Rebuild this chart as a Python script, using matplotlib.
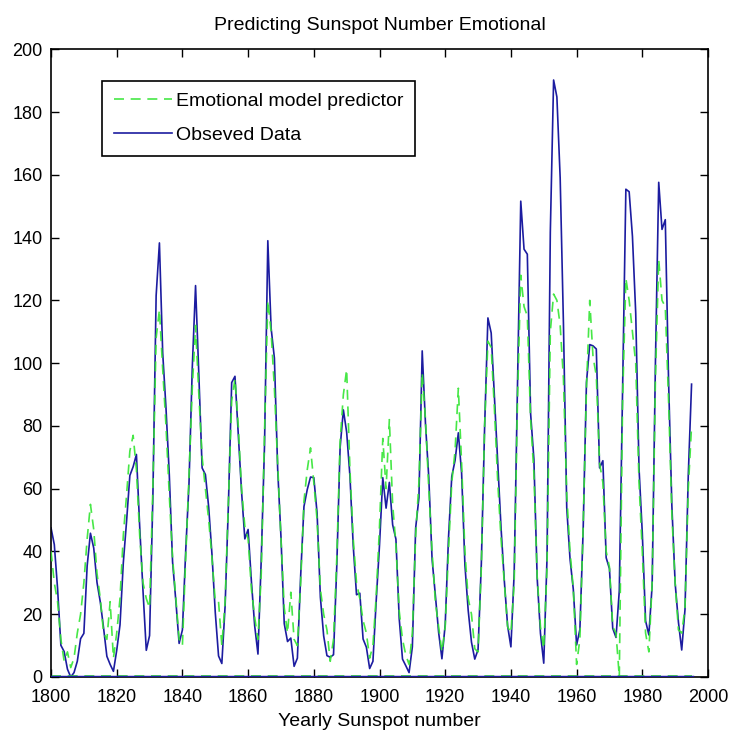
import numpy as np
import matplotlib
matplotlib.use("Agg")
import matplotlib.pyplot as plt

plt.rcParams['font.family'] = ['Liberation Sans', 'DejaVu Sans']

years = list(range(1800, 1996))

observed = [
    47.5, 42.2, 28.1, 10.1, 8.1, 2.5, 0.0, 1.4, 5.0, 12.2,
    13.9, 35.4, 45.8, 41.1, 30.1, 23.9, 15.6, 6.6, 4.0, 1.8,
    8.5, 16.6, 36.3, 49.6, 64.2, 67.0, 70.9, 47.8, 27.5, 8.5,
    13.2, 56.9, 121.5, 138.3, 103.2, 85.7, 64.6, 36.7, 24.2, 10.7,
    15.0, 40.1, 61.5, 98.5, 124.7, 96.3, 66.6, 64.5, 54.1, 39.0,
    20.6, 6.7, 4.3, 22.7, 54.8, 93.8, 95.8, 77.2, 59.1, 44.0,
    47.0, 30.5, 16.3, 7.3, 37.6, 74.0, 139.0, 111.2, 101.6, 66.2,
    44.7, 17.0, 11.3, 12.4, 3.4, 6.0, 32.3, 54.3, 59.7, 63.7,
    63.5, 52.2, 25.4, 13.1, 6.8, 6.3, 7.1, 35.6, 73.0, 85.1,
    78.0, 64.0, 41.8, 26.2, 26.7, 12.1, 9.5, 2.7, 5.0, 24.4,
    42.0, 63.5, 53.8, 62.0, 48.5, 43.9, 18.6, 5.7, 3.6, 1.4,
    9.6, 47.4, 57.1, 103.9, 80.6, 63.6, 37.6, 26.1, 14.2, 5.8,
    16.7, 44.3, 63.9, 69.0, 77.8, 64.9, 35.7, 21.2, 11.1, 5.7,
    8.7, 36.1, 79.7, 114.4, 109.6, 88.8, 67.8, 47.5, 30.6, 16.3,
    9.6, 33.2, 92.6, 151.6, 136.3, 134.7, 83.9, 69.4, 31.5, 13.9,
    4.4, 38.0, 141.7, 190.2, 184.8, 159.0, 112.3, 53.9, 37.6, 27.9,
    10.2, 15.1, 47.0, 93.8, 105.9, 105.5, 104.5, 66.6, 68.9, 38.0,
    34.5, 15.5, 12.6, 27.5, 92.5, 155.4, 154.6, 140.4, 115.9, 66.6,
    45.9, 17.9, 13.4, 29.2, 100.2, 157.6, 142.6, 145.7, 94.3, 54.6,
    29.9, 17.5, 8.6, 21.5, 64.3, 93.3,
]

predicted = [
    40, 30, 24, 12, 5, 8, 3, 6, 14, 20,
    30, 44, 55, 47, 33, 25, 14, 12, 24, 6,
    14, 25, 45, 58, 72, 77, 66, 45, 30, 25,
    22, 60, 108, 117, 98, 80, 58, 38, 25, 12,
    10, 38, 64, 92, 112, 90, 70, 60, 50, 38,
    24, 24, 10, 24, 56, 88, 95, 80, 60, 48,
    44, 28, 19, 12, 33, 78, 120, 110, 92, 68,
    44, 22, 14, 27, 12, 10, 30, 56, 66, 73,
    62, 50, 28, 20, 15, 5, 12, 38, 75, 90,
    98, 66, 44, 30, 25, 18, 14, 6, 10, 26,
    48, 76, 60, 82, 55, 42, 21, 12, 7, 4,
    14, 45, 62, 97, 82, 60, 40, 24, 16, 8,
    16, 40, 62, 72, 92, 68, 40, 25, 20, 9,
    8, 35, 80, 107, 105, 85, 62, 44, 30, 16,
    14, 30, 88, 128, 118, 115, 82, 65, 32, 16,
    9, 35, 110, 122, 120, 112, 95, 58, 40, 28,
    4, 12, 48, 92, 120, 102, 96, 68, 62, 40,
    35, 16, 14, 0, 88, 127, 120, 110, 100, 62,
    40, 14, 8, 30, 95, 133, 120, 118, 88, 52,
    30, 15, 14, 22, 60, 80,
]

baseline_obs = [0.0] * len(years)
baseline_pred = [0.4] * len(years)

x_ticks = list(range(1800, 2001, 20))
y_ticks = list(range(0, 201, 20))

blue = '#1c1ca0'
green = '#33e533'

fig = plt.figure(figsize=(7.32, 7.46), dpi=100)
ax = fig.add_axes([0.0697, 0.0925, 0.8975, 0.8415])

hb, = ax.plot(years, observed, color=blue, lw=1.2, label='Obseved Data', zorder=2)
hg, = ax.plot(years, predicted, color=green, lw=1.2, ls=(0, (6, 4)),
              label='Emotional model predictor', zorder=3, alpha=0.9)
ax.plot(years, baseline_pred, color=green, lw=1.2, ls=(0, (6, 4)), zorder=2)
ax.plot(years, baseline_obs, color=blue, lw=2.5, zorder=4)

ax.set_xlim(1800, 2000)
ax.set_ylim(0, 200)
ax.set_xticks(x_ticks)
ax.set_yticks(y_ticks)
ax.tick_params(direction='in', length=6, width=1, top=True, right=True,
               labelsize=13, color='black')
ax.tick_params(axis='x', pad=9)
ax.tick_params(axis='y', pad=6)
for s in ax.spines.values():
    s.set_linewidth(1.2)

ax.set_title('Predicting Sunspot Number Emotional', fontsize=14, pad=14)
ax.set_xlabel('Yearly Sunspot number', fontsize=14, labelpad=5)

leg = ax.legend(handles=[hg, hb], loc='upper left', bbox_to_anchor=(0.078, 0.95),
                borderaxespad=0, fancybox=False, edgecolor='black', framealpha=1,
                fontsize=14, handlelength=3.0, handletextpad=0.2,
                borderpad=0.6, labelspacing=0.85)
leg.get_frame().set_linewidth(1.2)

fig.savefig('out.png', dpi=100)
